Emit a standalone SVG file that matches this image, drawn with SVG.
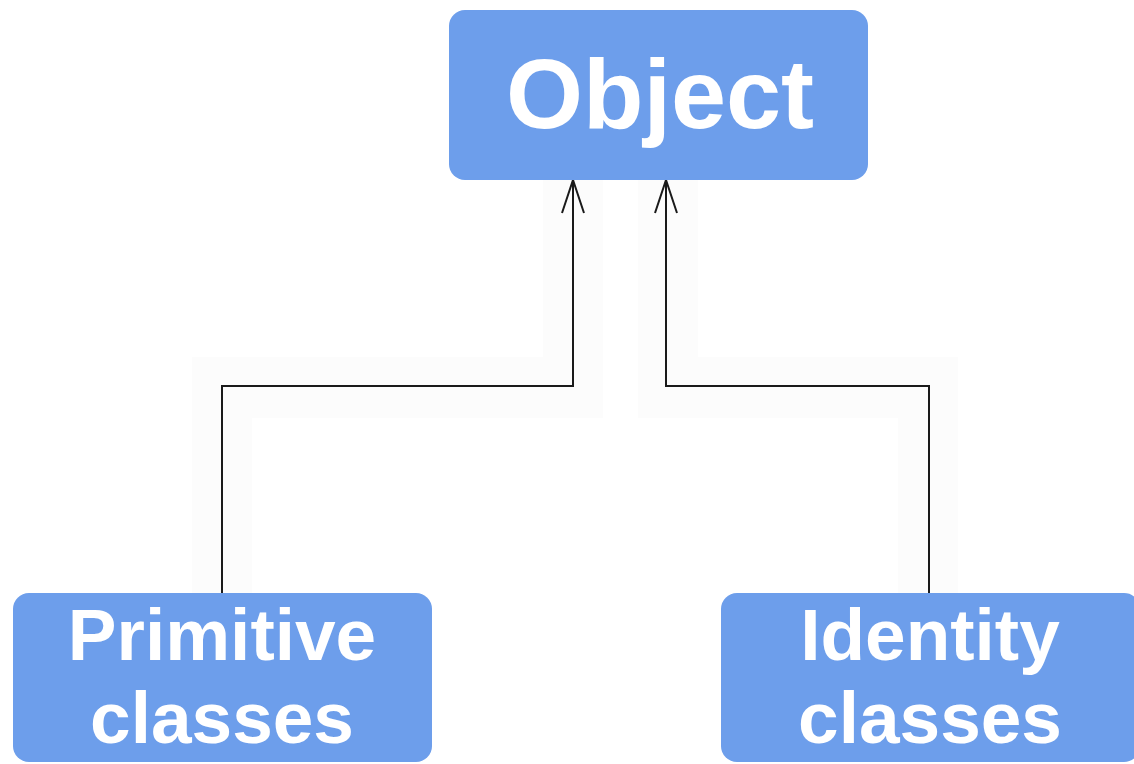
<svg xmlns="http://www.w3.org/2000/svg" width="1134" height="764" viewBox="0 0 1134 764">
  <style>
    .box { fill: #6d9eeb; }
    .label { font-family: "Liberation Sans", Arial, sans-serif; font-weight: bold; fill: #ffffff; text-anchor: middle; }
    .halo { fill: #fcfcfc; stroke: none; }
    .edge { fill: none; stroke: #1a1a1a; stroke-width: 2; }
  </style>
  <defs>
    <!-- open V arrowhead, drawn pointing along +x -->
    <marker id="openArrow" markerUnits="userSpaceOnUse" markerWidth="36" markerHeight="26" refX="34" refY="13" orient="auto" viewBox="0 0 36 26">
      <path d="M1,2 L34,13 L1,24" fill="none" stroke="#1a1a1a" stroke-width="2"/>
    </marker>
  </defs>
  <rect width="1134" height="764" fill="#ffffff"/>

  <!-- faint bands behind the connector routes -->
  <g id="connector-halos">
    <polygon class="halo" points="192,357 543,357 543,180 603,180 603,418 252,418 252,593 192,593"/>
    <polygon class="halo" points="638,180 698,180 698,357 958,357 958,593 898,593 898,418 638,418"/>
  </g>

  <g id="connectors">
    <path class="edge" d="M222,593 V386 H573 V180" marker-end="url(#openArrow)"/>
    <path class="edge" d="M929,593 V386 H666 V180" marker-end="url(#openArrow)"/>
  </g>

  <g id="node-object">
    <rect class="box" x="449" y="10" width="419" height="170" rx="16"/>
    <text class="label" x="660" y="128" font-size="99">Object</text>
  </g>

  <g id="node-primitive">
    <rect class="box" x="13" y="593" width="419" height="169" rx="16"/>
    <text class="label" x="222" y="660" font-size="73">Primitive</text>
    <text class="label" x="222" y="743" font-size="73">classes</text>
  </g>

  <g id="node-identity">
    <rect class="box" x="721" y="593" width="419" height="169" rx="16"/>
    <text class="label" x="930" y="660" font-size="73">Identity</text>
    <text class="label" x="930" y="743" font-size="73">classes</text>
  </g>
</svg>
